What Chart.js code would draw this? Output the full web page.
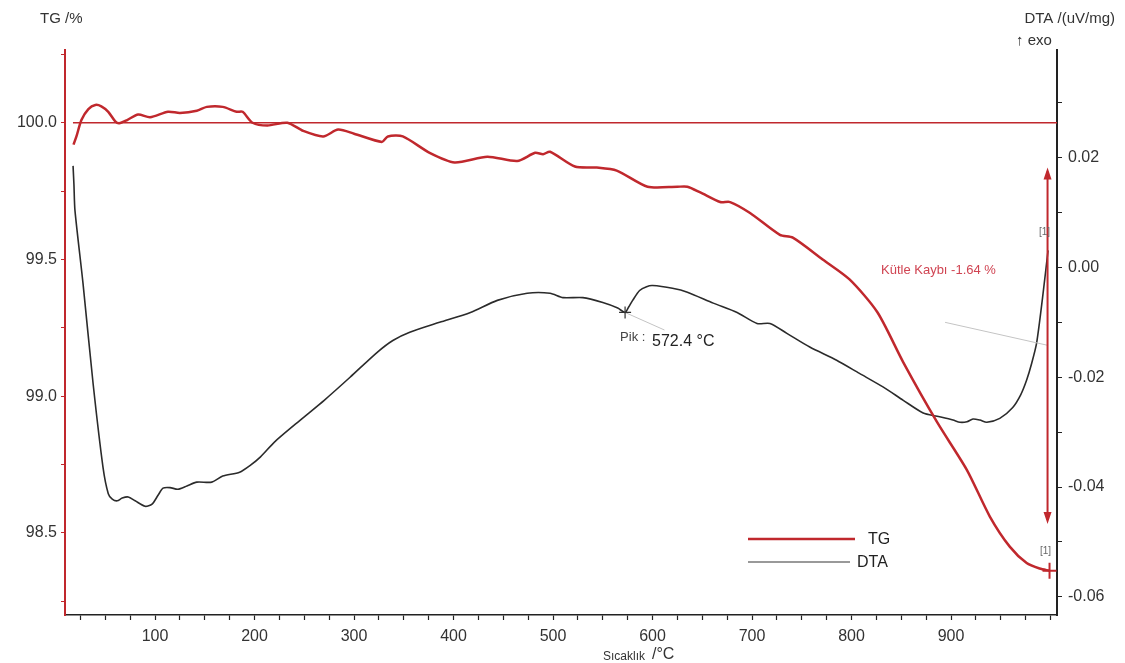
<!DOCTYPE html>
<html>
<head>
<meta charset="utf-8">
<script src="https://cdn.jsdelivr.net/npm/chart.js@4/dist/chart.umd.min.js"></script>
<style>
  body { margin: 0; background: #fff; }
  canvas { display: block; }
</style>
</head>
<body>
<canvas id="tgChart" width="1125" height="663"></canvas>
<script>
// TG curve (temperature in °C, mass in %)
const tgTemp = [18, 21, 26, 33, 40, 46, 53, 60, 64, 72, 83, 95, 113, 125, 142, 152, 168, 182, 188, 198,
  213, 233, 249, 269, 284, 300, 328, 334, 349, 376, 401, 434, 464, 482, 490, 497, 522, 544, 564, 595,
  625, 635, 648, 668, 678, 698, 728, 741, 771, 798, 826, 852, 886, 916, 939, 959, 976, 989, 999];
const tgValue = [99.92, 99.95, 100.01, 100.05, 100.065, 100.06, 100.04, 100.005, 99.998, 100.01, 100.03, 100.02, 100.04, 100.036, 100.044, 100.058, 100.058, 100.04, 100.04, 100.0,
  99.99, 100.0, 99.97, 99.95, 99.975, 99.96, 99.93, 99.95, 99.95, 99.89, 99.855, 99.876, 99.86, 99.89, 99.885, 99.894, 99.84, 99.836, 99.825, 99.766,
  99.766, 99.766, 99.745, 99.71, 99.71, 99.67, 99.59, 99.58, 99.5, 99.427, 99.307, 99.124, 98.905, 98.73, 98.56, 98.45, 98.39, 98.37, 98.362];

// DTA curve (temperature in °C, signal in uV/mg)
const dtaTemp = [17.6, 18.5, 19.5, 27.6, 37.7, 47.7, 53, 57, 62, 67, 73, 80, 90, 97, 103, 108, 115, 123, 132, 142,
  157, 168, 185, 196, 206, 220, 246, 270, 296, 323, 339, 356, 386, 417, 444, 474, 497, 510, 530, 550,
  565, 572.4, 576, 580, 587, 594, 600, 620, 635, 661, 685, 705, 718, 735, 758, 785, 808, 832, 852, 872,
  886, 902, 909, 916, 922, 929, 936, 949, 962, 970, 976, 981, 986, 992, 997.5];
const dtaValue = [0.0185, 0.015, 0.0104, -0.0029, -0.0211, -0.0364, -0.0412, -0.0422, -0.0425, -0.042, -0.0418, -0.0425, -0.0435, -0.0431, -0.0415, -0.0402, -0.0401, -0.0404, -0.0398, -0.0391,
  -0.0391, -0.038, -0.0373, -0.036, -0.0345, -0.0318, -0.0278, -0.0242, -0.02, -0.0155, -0.0133, -0.0118, -0.01, -0.0082, -0.006, -0.0047, -0.0047, -0.0055, -0.0055, -0.0064,
  -0.0074, -0.0082, -0.0072, -0.006, -0.0042, -0.0035, -0.0033, -0.0038, -0.0045, -0.0065, -0.0082, -0.0102, -0.0102, -0.012, -0.0145, -0.0169, -0.0193, -0.0218, -0.0242, -0.0265,
  -0.0271, -0.0278, -0.0282, -0.0281, -0.0276, -0.0278, -0.0282, -0.0275, -0.0255, -0.0232, -0.0205, -0.0175, -0.0138, -0.0055, 0.0031];

// axis ticks and labels
const xTicks = [25, 50, 75, 100, 125, 150, 175, 200, 225, 250, 275, 300, 325, 350, 375, 400, 425, 450, 475, 500,
  525, 550, 575, 600, 625, 650, 675, 700, 725, 750, 775, 800, 825, 850, 875, 900, 925, 950, 975, 1000];
const xLabels = [100, 200, 300, 400, 500, 600, 700, 800, 900];
const tgTicks = [98.25, 98.5, 98.75, 99.0, 99.25, 99.5, 99.75, 100.0, 100.25];
const tgLabels = [98.5, 99.0, 99.5, 100.0];
const dtaTicks = [-0.06, -0.05, -0.04, -0.03, -0.02, -0.01, 0, 0.01, 0.02, 0.03];
const dtaLabels = [-0.06, -0.04, -0.02, 0, 0.02];

// annotations
const baseline = [[17.5, 100.0], [1006.5, 100.0]];
const peakTemp = 572.4;
const peakDta = -0.0082;
const tgEnd = [999, 98.362];
const massLoss = -1.64;
const lossArrow = [997, 99.836, 98.533];

const RED = '#c0282d';
const FONT = '"Liberation Sans", Arial, sans-serif';

const near = (list, v) => list.some(t => Math.abs(t - v) < 1e-6);

const overlay = {
  id: 'overlay',
  afterDatasetsDraw(chart) {
    const { ctx, scales: { x, y, y2 } } = chart;
    ctx.save();

    // tangent helper lines (light grey)
    ctx.strokeStyle = '#c4c4c4';
    ctx.lineWidth = 1;
    ctx.beginPath();
    ctx.moveTo(x.getPixelForValue(peakTemp), y2.getPixelForValue(peakDta));
    ctx.lineTo(x.getPixelForValue(612), y2.getPixelForValue(-0.0114));
    ctx.moveTo(x.getPixelForValue(894), y2.getPixelForValue(-0.0100));
    ctx.lineTo(x.getPixelForValue(997.5), y2.getPixelForValue(-0.0142));
    ctx.stroke();

    // peak marker
    const px = x.getPixelForValue(peakTemp), py = y2.getPixelForValue(peakDta);
    ctx.strokeStyle = '#333';
    ctx.lineWidth = 1.2;
    ctx.beginPath();
    ctx.moveTo(px - 6, py); ctx.lineTo(px + 6, py);
    ctx.moveTo(px, py - 6); ctx.lineTo(px, py + 6);
    ctx.stroke();
    ctx.fillStyle = '#444';
    ctx.textBaseline = 'middle';
    ctx.textAlign = 'left';
    ctx.font = '13px ' + FONT;
    ctx.fillText('Pik :', px - 5, py + 25);
    ctx.fillStyle = '#222';
    ctx.font = '16px ' + FONT;
    ctx.fillText(peakTemp.toFixed(1) + ' °C', px + 27, py + 29);

    // mass loss arrow
    const ax = x.getPixelForValue(lossArrow[0]);
    const ay1 = y.getPixelForValue(lossArrow[1]);
    const ay2 = y.getPixelForValue(lossArrow[2]);
    ctx.strokeStyle = RED;
    ctx.fillStyle = RED;
    ctx.lineWidth = 2;
    ctx.beginPath();
    ctx.moveTo(ax, ay1 + 4); ctx.lineTo(ax, ay2 - 4);
    ctx.stroke();
    ctx.beginPath();
    ctx.moveTo(ax, ay1); ctx.lineTo(ax - 4, ay1 + 12); ctx.lineTo(ax + 4, ay1 + 12); ctx.closePath();
    ctx.moveTo(ax, ay2); ctx.lineTo(ax - 4, ay2 - 12); ctx.lineTo(ax + 4, ay2 - 12); ctx.closePath();
    ctx.fill();

    ctx.fillStyle = '#d04452';
    ctx.font = '13px ' + FONT;
    ctx.fillText('Kütle Kaybı ' + massLoss.toFixed(2) + ' %', 881, 270);

    // TG end marker
    const ex = x.getPixelForValue(tgEnd[0]), ey = y.getPixelForValue(tgEnd[1]);
    ctx.strokeStyle = RED;
    ctx.lineWidth = 2;
    ctx.beginPath();
    ctx.moveTo(ex - 7, ey); ctx.lineTo(ex + 7, ey);
    ctx.moveTo(ex, ey - 8); ctx.lineTo(ex, ey + 8);
    ctx.stroke();

    ctx.fillStyle = '#666';
    ctx.font = '10px ' + FONT;
    ctx.fillText('[1]', 1039, 232);
    ctx.fillText('[1]', 1040, 551);

    // legend
    ctx.lineWidth = 2.5;
    ctx.strokeStyle = RED;
    ctx.beginPath(); ctx.moveTo(748, 539); ctx.lineTo(855, 539); ctx.stroke();
    ctx.lineWidth = 1.5;
    ctx.strokeStyle = '#777';
    ctx.beginPath(); ctx.moveTo(748, 562); ctx.lineTo(850, 562); ctx.stroke();
    ctx.fillStyle = '#222';
    ctx.font = '16px ' + FONT;
    ctx.fillText('TG', 868, 540);
    ctx.fillText('DTA', 857, 563);

    // axis titles
    ctx.fillStyle = '#333';
    ctx.font = '15px ' + FONT;
    ctx.fillText('TG /%', 40, 19);
    ctx.textAlign = 'right';
    ctx.fillText('DTA /(uV/mg)', 1115, 19);
    ctx.save();
    ctx.beginPath(); ctx.rect(1000, 28, 57, 24); ctx.clip();
    ctx.textAlign = 'left';
    ctx.fillText('↑ exo', 1016, 41);
    ctx.restore();
    ctx.textAlign = 'left';
    ctx.font = '12px ' + FONT;
    ctx.fillText('Sıcaklık', 603, 657);
    ctx.font = '16px ' + FONT;
    ctx.fillText('/°C', 652, 655);

    ctx.restore();
  }
};

new Chart(document.getElementById('tgChart').getContext('2d'), {
  type: 'line',
  data: {
    datasets: [
      {
        label: 'baseline',
        data: baseline.map(p => ({ x: p[0], y: p[1] })),
        yAxisID: 'y',
        borderColor: RED,
        borderWidth: 1.5,
        pointRadius: 0
      },
      {
        label: 'TG',
        data: tgTemp.map((t, i) => ({ x: t, y: tgValue[i] })),
        yAxisID: 'y',
        borderColor: RED,
        borderWidth: 2.5,
        pointRadius: 0,
        tension: 0.25
      },
      {
        label: 'DTA',
        data: dtaTemp.map((t, i) => ({ x: t, y: dtaValue[i] })),
        yAxisID: 'y2',
        borderColor: '#2b2b2b',
        borderWidth: 1.6,
        pointRadius: 0,
        tension: 0.25
      }
    ]
  },
  options: {
    responsive: false,
    animation: false,
    layout: { padding: { top: 50, left: 0, right: 0, bottom: 0 } },
    plugins: { legend: { display: false }, tooltip: { enabled: false } },
    scales: {
      x: {
        type: 'linear',
        min: 9.5,
        max: 1006.5,
        afterBuildTicks: axis => { axis.ticks = xTicks.map(v => ({ value: v })); },
        afterFit: axis => { axis.height = 48; },
        ticks: {
          autoSkip: false,
          maxRotation: 0,
          padding: 7,
          color: '#333',
          font: { size: 16, family: FONT },
          callback: v => near(xLabels, v) ? String(v) : ''
        },
        grid: { drawOnChartArea: false, tickLength: 5, tickColor: '#222', tickWidth: 1.2 },
        border: { color: '#222', width: 1.5 }
      },
      y: {
        position: 'left',
        min: 98.2,
        max: 100.266,
        afterBuildTicks: axis => { axis.ticks = tgTicks.map(v => ({ value: v })); },
        afterFit: axis => { axis.width = 65; },
        ticks: {
          autoSkip: false,
          padding: 4,
          color: '#333',
          font: { size: 16, family: FONT },
          callback: v => near(tgLabels, v) ? v.toFixed(1) : ''
        },
        grid: { drawOnChartArea: false, tickLength: 4, tickColor: RED, tickWidth: 1 },
        border: { color: RED, width: 2 }
      },
      y2: {
        position: 'right',
        min: -0.0633,
        max: 0.0396,
        afterBuildTicks: axis => { axis.ticks = dtaTicks.map(v => ({ value: v })); },
        afterFit: axis => { axis.width = 68; },
        ticks: {
          autoSkip: false,
          padding: 6,
          color: '#333',
          font: { size: 16, family: FONT },
          callback: v => near(dtaLabels, v) ? v.toFixed(2) : ''
        },
        grid: { drawOnChartArea: false, tickLength: 5, tickColor: '#222', tickWidth: 1 },
        border: { color: '#222', width: 2 }
      }
    }
  },
  plugins: [overlay]
});
</script>
</body>
</html>
